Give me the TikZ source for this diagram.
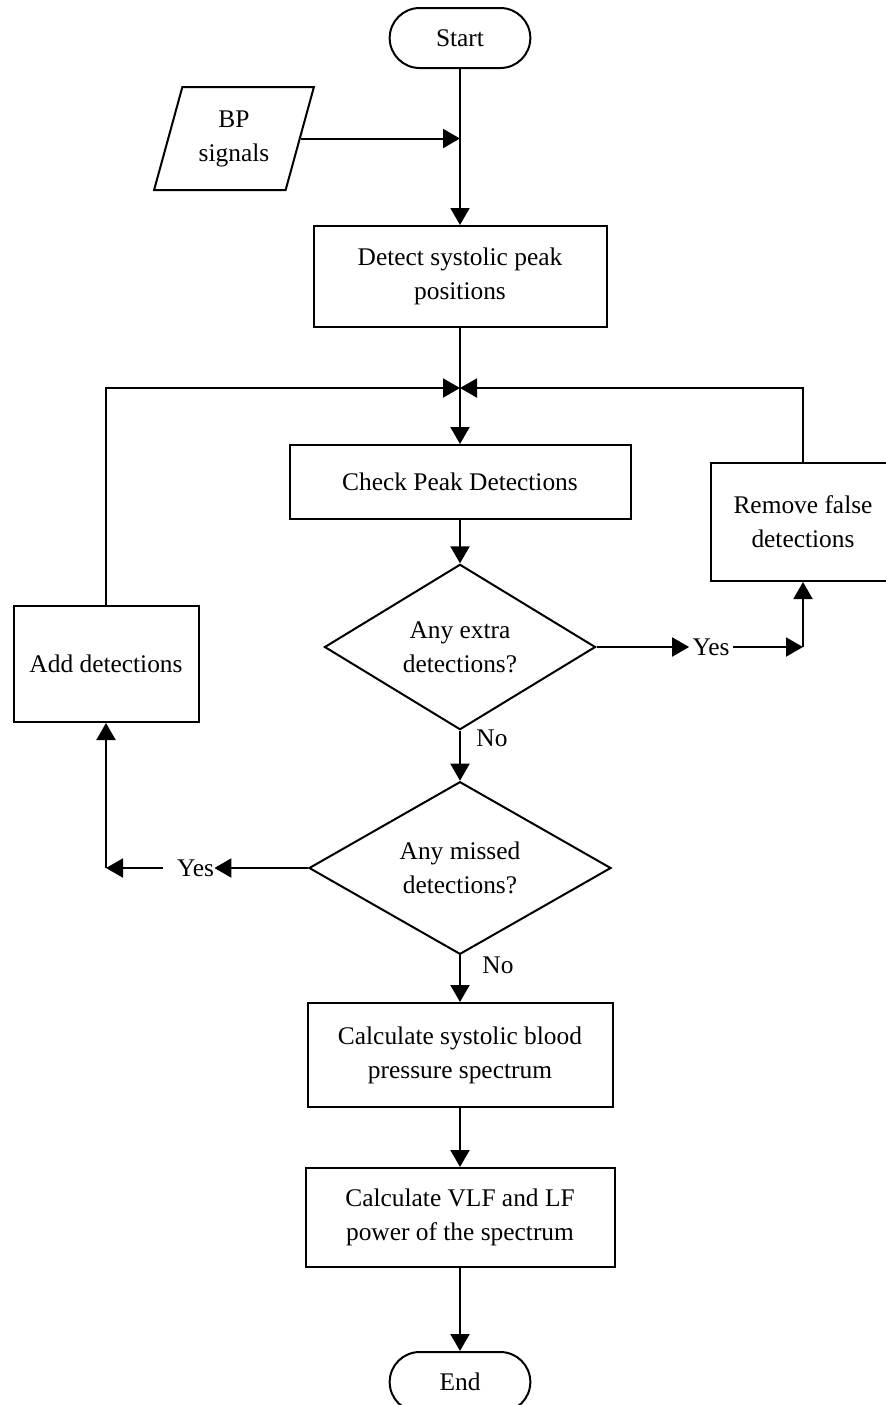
\documentclass[tikz,border=0pt]{standalone}
\usepackage{fontspec}
\setmainfont{Liberation Serif}
\usetikzlibrary{arrows.meta}
\usetikzlibrary{shapes.geometric,shapes.misc}
\usetikzlibrary{calc}

\begin{document}
\begin{tikzpicture}[x=0.5pt,y=-0.5pt,
  font=\fontsize{12.7}{17}\selectfont,
  every node/.style={align=center},
  box/.style={draw,line width=1pt,rectangle,inner sep=0pt},
  term/.style={draw,line width=1pt,rounded rectangle,minimum width=77pt,minimum height=30pt},
  decision/.style={draw,line width=1pt,diamond,inner sep=0pt},
  flow/.style={line width=1pt,-{Triangle[length=8.5pt,width=9.5pt]}},
  link/.style={line width=1pt}]

  \useasboundingbox (0,0) rectangle (886,1405);
  \clip (0,0) rectangle (886,1405);

  \node (start) [term] at (460,38) {Start};
  \node (bp) [draw,line width=1pt,trapezium,trapezium left angle=71,trapezium right angle=109,
    trapezium stretches=true,minimum width=80pt,minimum height=51.5pt,inner sep=0pt] at (234,138.5) {BP\\signals};
  \node (detect) [box,minimum width=146.5pt,minimum height=50.5pt] at (460,276.5) {Detect systolic peak\\positions};
  \coordinate (join) at (460,388);
  \node (check) [box,minimum width=170.5pt,minimum height=37pt] at (460,482) {Check Peak Detections};
  \node (remove) [box,minimum width=92pt,minimum height=59pt] at (803,522) {Remove false\\detections};
  \node (extra) [decision,minimum width=135.5pt,minimum height=76.5pt] at (460,647) {Any extra\\detections?};
  \node (missed) [decision,minimum width=151pt,minimum height=73.5pt] at (460,868) {Any missed\\detections?};
  \node (add) [box,minimum width=92.5pt,minimum height=58pt] at (106,664) {Add detections};
  \node (yesr) [inner xsep=1.5pt,inner ysep=0pt] at (711,647) {Yes};
  \node (yesl) [inner sep=0pt] at (195.5,868) {Yes};
  \node (nor) at (492,738) {No};
  \node (nol) at (498,965) {No};
  \node (spec) [box,minimum width=152.5pt,minimum height=52pt] at (460,1055) {Calculate systolic blood\\pressure spectrum};
  \node (power) [box,minimum width=154.5pt,minimum height=49.5pt] at (460,1217.5) {Calculate VLF and LF\\power of the spectrum};
  \node (end) [term] at (460,1382) {End};

  \draw[flow] (start.south) -- (detect.north);
  \draw[flow] (bp.east) -- (bp.east -| start.south);
  \draw[link] (detect.south) -- (join);
  \draw[flow] (join) -- (check.north);
  \draw[flow] (add.north) |- (join);
  \draw[flow] (remove.north) |- (join);
  \draw[flow] (check.south) -- (extra.north);

  \draw[flow] (extra.east) -- (yesr.west);
  \coordinate (rcorner) at (yesr -| remove.south);
  \draw[flow] (yesr.east) -- (rcorner);
  \draw[flow] (rcorner) -- (remove.south);
  \draw[flow] (extra.south) -- (missed.north);

  \draw[flow] (missed.west) -- (yesl.east);
  \coordinate (lcorner) at (yesl -| add.south);
  \draw[flow] ($(yesl.west)+(-14,0)$) -- (lcorner);
  \draw[flow] (lcorner) -- (add.south);

  \draw[flow] (missed.south) -- (spec.north);
  \draw[flow] (spec.south) -- (power.north);
  \draw[flow] (power.south) -- (end.north);
\end{tikzpicture}
\end{document}
